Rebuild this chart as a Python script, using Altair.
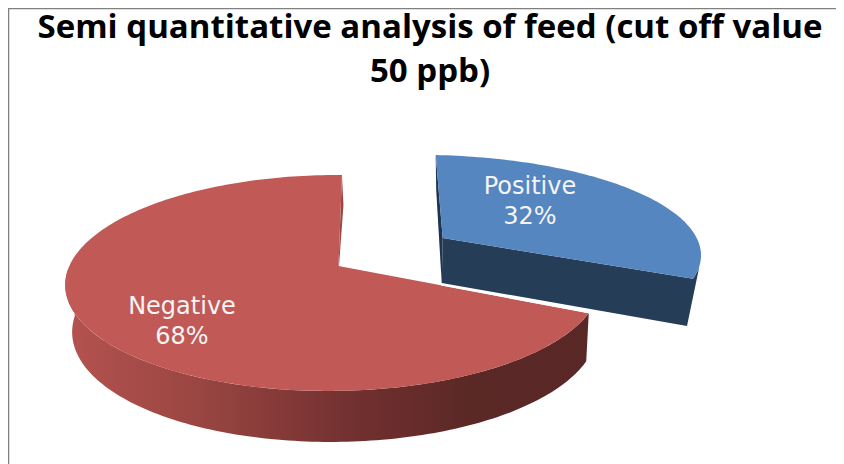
import numpy as np
import altair as alt

# Chart content
categories = ["Positive", "Negative"]
shares = [32, 68]
title_lines = ["Semi quantitative analysis of feed (cut off value", "50 ppb)"]

W, H = 836, 464
X_SCALE = alt.Scale(domain=[8, W], range=[0, W - 8], nice=False, zero=False)
Y_SCALE = alt.Scale(domain=[8, H], range=[0, H - 8], nice=False, zero=False)

cut = 360.0 * shares[0] / sum(shares)


def project(theta, ax, ay, A, B, D, q, r):
    t = np.radians(np.asarray(theta, dtype=float))
    u, v = np.sin(t), np.cos(t)
    w = 1 + q * v + r * u
    return ax + (A * u + D * v) / w, ay - B * v / w


BLUE = dict(ax=442.7, ay=238, A=272.8, B=96, D=-8.1, q=0.157, r=0.074)
RED = dict(ax=338.5, ay=266, A=264.4, B=105.3, D=4, q=0.157, r=0.0177)


def poly(xs, ys, fill):
    rows = [{"x": float(a), "y": float(b), "i": i} for i, (a, b) in enumerate(zip(xs, ys))]
    return (
        alt.Chart(alt.Data(values=rows))
        .mark_line(fill=fill, strokeOpacity=0, interpolate="linear-closed")
        .encode(
            x=alt.X("x:Q", scale=X_SCALE, axis=None),
            y=alt.Y("y:Q", scale=Y_SCALE, axis=None),
            order=alt.Order("i:Q"),
        )
    )


# Positive slice
th_b = np.linspace(0, cut, 90)
bx, by = project(th_b, **BLUE)
ax_b, ay_b = BLUE["ax"], BLUE["ay"]
blue_face = poly(np.r_[ax_b, bx], np.r_[ay_b, by], "#5586C0")
# cut wall + rim
th_rim = np.linspace(cut, 107, 8)
rx, ry = project(th_rim, **BLUE)
blue_wall = poly(
    np.r_[ax_b, rx, 687, ax_b - 1],
    np.r_[ay_b, ry, 326, ay_b + 45],
    "#263D58",
)
blue_strip = poly(
    [bx[0], ax_b, ax_b - 1, bx[0] + 0.5],
    [by[0], ay_b, ay_b + 45, by[0] + 35],
    "#1E3450",
)

# Negative slice
th_r = np.linspace(cut, 360, 200)
cx, cy = project(th_r, **RED)
ax_r, ay_r = RED["ax"], RED["ay"]
red_face = poly(np.r_[ax_r, cx], np.r_[ay_r, cy], "#C15A56")

th_w = np.linspace(cut, 268, 140)
wx, wy = project(th_w, **RED)
u_w, v_w = np.sin(np.radians(th_w)), np.cos(np.radians(th_w))
dx = 2.0 - 5 * u_w
dy = 46 - 5 * v_w
red_gradient = alt.Gradient(
    gradient="linear",
    x1=0, x2=1, y1=0, y2=0,
    stops=[
        alt.GradientStop(offset=0.0, color="#B5524F"),
        alt.GradientStop(offset=0.25, color="#9A4642"),
        alt.GradientStop(offset=0.55, color="#723030"),
        alt.GradientStop(offset=0.78, color="#5A2825"),
        alt.GradientStop(offset=1.0, color="#592725"),
    ],
)
red_wall = poly(
    np.r_[wx, (wx + dx)[::-1]],
    np.r_[wy, (wy + dy)[::-1]],
    red_gradient,
)
red_strip = poly(
    [cx[-1], cx[-1] + 1.5, ax_r + 0.5, ax_r],
    [cy[-1], cy[-1] + 30, ay_r, ay_r],
    "#9A4643",
)

# light seam along the front slice's edge
end_x, end_y = cx[0], cy[0]
seam_rows = [
    {"x": float(ax_r + t * (end_x - ax_r)), "y": float(ay_r + t * (end_y - ay_r) - 0.6), "i": i}
    for i, t in enumerate([0.41, 1.0])
]
seam = (
    alt.Chart(alt.Data(values=seam_rows))
    .mark_line(color="#FFFFFF", strokeWidth=1.5)
    .encode(
        x=alt.X("x:Q", scale=X_SCALE, axis=None),
        y=alt.Y("y:Q", scale=Y_SCALE, axis=None),
        order=alt.Order("i:Q"),
    )
)

# Slice labels
label_anchor = {"Positive": (530, 187), "Negative": (182, 307)}
label_rows = [
    {"label": f"{c}\n{s}%", "x": label_anchor[c][0], "y": label_anchor[c][1]}
    for c, s in zip(categories, shares)
]
labels = (
    alt.Chart(alt.Data(values=label_rows))
    .mark_text(
        font="DejaVu Sans", fontSize=24, color="#F4F4F4", lineBreak="\n",
        lineHeight=30, align="center", baseline="middle",
    )
    .encode(
        x=alt.X("x:Q", scale=X_SCALE, axis=None),
        y=alt.Y("y:Q", scale=Y_SCALE, axis=None),
        text="label:N",
    )
)

# Frame (top and left edges)
frame_top = (
    alt.Chart(alt.Data(values=[{"y": 8.5}]))
    .mark_rule(color="#808080", strokeWidth=1.5)
    .encode(y=alt.Y("y:Q", scale=Y_SCALE, axis=None))
)
frame_left = (
    alt.Chart(alt.Data(values=[{"x": 8.5}]))
    .mark_rule(color="#808080", strokeWidth=1.5)
    .encode(x=alt.X("x:Q", scale=X_SCALE, axis=None))
)

chart = (
    alt.layer(
        frame_top, frame_left,
        blue_strip, blue_wall, blue_face,
        red_wall, red_strip, red_face, seam, labels,
    )
    .properties(
        width=W - 8,
        height=H - 8,
        padding=0,
        autosize=alt.AutoSizeParams(type="none"),
        background="#FFFFFF",
        title=alt.TitleParams(
            text=title_lines,
            font="Open Sans",
            fontWeight="bold",
            fontSize=33,
            lineHeight=44,
            color="#000000",
            anchor="middle",
            baseline="top",
            offset=-82,
            dx=8,
        ),
    )
    .configure_view(stroke=None)
)

chart.save("out.html", embed_options={"renderer": "svg", "actions": False})
